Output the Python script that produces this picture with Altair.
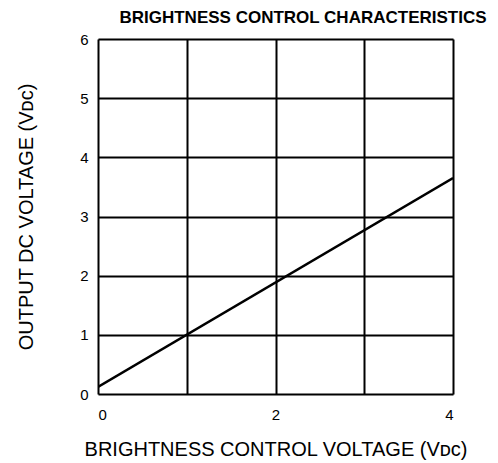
import altair as alt
import pandas as pd

control_v = [0.0, 4.0]
output_v = [0.12, 3.65]
chart_title = "BRIGHTNESS CONTROL CHARACTERISTICS"

df = pd.DataFrame({"x": control_v, "y": output_v})
title_df = pd.DataFrame({"t": [chart_title]})

FONT = "Liberation Sans"

line = alt.Chart(df).mark_line(color="black", strokeWidth=2.5, clip=True).encode(
    x=alt.X("x:Q", scale=alt.Scale(domain=[0, 4], nice=False),
            axis=alt.Axis(values=[0, 1, 2, 3, 4],
                          labelExpr="datum.value % 2 == 0 ? datum.label : ''",
                          title="BRIGHTNESS CONTROL VOLTAGE (Vᴅᴄ)",
                          grid=True, gridColor="black", gridWidth=2, gridOpacity=1,
                          ticks=False, domain=False,
                          labelPadding=13, labelFontSize=15, labelColor="black",
                          titlePadding=17, titleFontSize=20, titleFontWeight="normal",
                          titleColor="black", labelFont=FONT, titleFont=FONT)),
    y=alt.Y("y:Q", scale=alt.Scale(domain=[0, 6], nice=False),
            axis=alt.Axis(values=[0, 1, 2, 3, 4, 5, 6],
                          title="OUTPUT DC VOLTAGE (Vᴅᴄ)",
                          grid=True, gridColor="black", gridWidth=2, gridOpacity=1,
                          ticks=False, domain=False,
                          labelPadding=10, labelFontSize=15, labelColor="black",
                          titlePadding=43, titleFontSize=20, titleFontWeight="normal",
                          titleColor="black", labelFont=FONT, titleFont=FONT)),
)

title_text = alt.Chart(title_df).mark_text(
    font=FONT, fontSize=17, fontWeight="bold", color="black",
    align="center", baseline="alphabetic",
).encode(
    text="t:N",
    x=alt.value(205),
    y=alt.value(-16),
)

chart = alt.layer(line, title_text).properties(
    width=355, height=355,
    autosize=alt.AutoSizeParams(type="none"),
    padding={"left": 90, "top": 31, "right": 37, "bottom": 69},
).configure_view(stroke="black", strokeWidth=2.5).configure(background="white")

chart.save("out.html", embed_options={"renderer": "svg", "actions": False})
